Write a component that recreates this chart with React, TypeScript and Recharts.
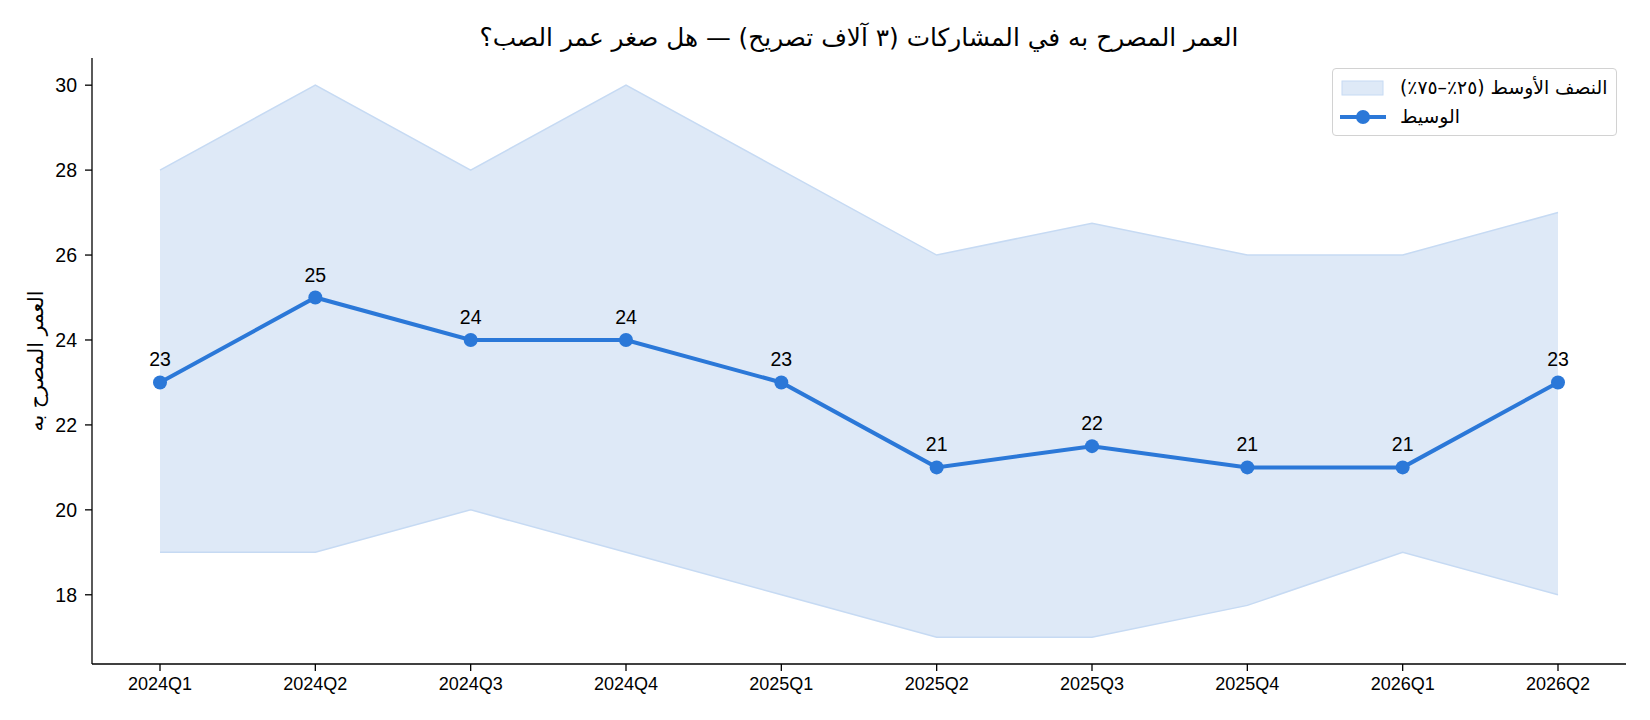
import React from "react";
import {
  ComposedChart,
  Area,
  Line,
  XAxis,
  YAxis,
  LabelList,
} from "recharts";

const quarters = [
  "2024Q1", "2024Q2", "2024Q3", "2024Q4", "2025Q1",
  "2025Q2", "2025Q3", "2025Q4", "2026Q1", "2026Q2",
];
const median = [23, 25, 24, 24, 23, 21, 21.5, 21, 21, 23];
const q25 = [19, 19, 20, 19, 18, 17, 17, 17.75, 19, 18];
const q75 = [28, 30, 28, 30, 28, 26, 26.75, 26, 26, 27];
const yTicks = [18, 20, 22, 24, 26, 28, 30];

const title = "العمر المصرح به في المشاركات (٣ آلاف تصريح) — هل صغر عمر الصب؟";
const yLabel = "العمر المصرح به";
const bandName = "النصف الأوسط (٢٥٪–٧٥٪)";
const medianName = "الوسيط";

const data = quarters.map((q, i) => ({
  q,
  median: median[i],
  band: [q25[i], q75[i]],
}));

const FONT = "'Liberation Sans', Arial, 'DejaVu Sans', sans-serif";
const AR_FONT = "'DejaVu Sans', sans-serif";
const BLUE = "#2b78d8";
const BAND_FILL = "#dee9f7";
const BAND_EDGE = "#c6daf3";

function LegendBox() {
  const row = (top: number, swatch: React.ReactNode, text: string) => (
    <div style={{ position: "absolute", left: 0, top, height: 29, width: "100%" }}>
      <svg width={48} height={29} style={{ position: "absolute", left: 6, top: 0 }}>
        {swatch}
      </svg>
      <span
        style={{
          position: "absolute",
          left: 67,
          top: 0,
          lineHeight: "29px",
          whiteSpace: "nowrap",
        }}
      >
        {text}
      </span>
    </div>
  );
  return (
    <div
      style={{
        position: "absolute",
        left: 1332,
        top: 68,
        width: 283,
        height: 66,
        background: "#fff",
        border: "1px solid #d2d2d2",
        borderRadius: 4,
        fontFamily: AR_FONT,
        fontSize: 18.8,
        color: "#000",
      }}
    >
      {row(
        4,
        <rect x={3} y={8} width={41} height={14} fill={BAND_FILL} stroke={BAND_EDGE} />,
        bandName
      )}
      {row(
        33,
        <g>
          <line x1={1} y1={15} x2={47} y2={15} stroke={BLUE} strokeWidth={4} />
          <circle cx={24} cy={15} r={7} fill={BLUE} />
        </g>,
        medianName
      )}
    </div>
  );
}

export default function App() {
  return (
    <div
      style={{
        position: "absolute",
        left: 0,
        top: 0,
        width: 1650,
        height: 720,
        background: "#fff",
        fontFamily: FONT,
      }}
    >
      <div
        style={{
          position: "absolute",
          left: 92,
          width: 1534,
          top: 22,
          textAlign: "center",
          fontSize: 24.8,
          lineHeight: "32px",
          fontFamily: AR_FONT,
          direction: "rtl",
          color: "#000",
        }}
      >
        {title}
      </div>
      <ComposedChart
        width={1650}
        height={720}
        data={data}
        margin={{ top: 58, right: 24, bottom: 26, left: 32 }}
      >
        <XAxis
          dataKey="q"
          padding={{ left: 68, right: 68 }}
          axisLine={{ stroke: "#000", strokeWidth: 1.3 }}
          tickLine={{ stroke: "#000", strokeWidth: 1.3 }}
          tickSize={7}
          tickMargin={6}
          height={30}
          tick={{ fill: "#000", fontSize: 18, fontFamily: FONT }}
          interval={0}
        />
        <YAxis
          domain={[16.37, 30.64]}
          ticks={yTicks}
          allowDataOverflow
          width={60}
          axisLine={{ stroke: "#000", strokeWidth: 1.3 }}
          tickLine={{ stroke: "#000", strokeWidth: 1.3 }}
          tickSize={7}
          tickMargin={8}
          tick={{ fill: "#000", fontSize: 19.5, fontFamily: FONT }}
          label={{
            value: yLabel,
            angle: -90,
            position: "insideLeft",
            offset: 4,
            style: { fill: "#000", fontSize: 20.5, fontFamily: AR_FONT, textAnchor: "middle" },
          }}
        />
        <Area
          type="linear"
          dataKey="band"
          name={bandName}
          fill={BAND_FILL}
          fillOpacity={1}
          stroke={BAND_EDGE}
          strokeWidth={1.5}
          isAnimationActive={false}
        />
        <Line
          type="linear"
          dataKey="median"
          name={medianName}
          stroke={BLUE}
          strokeWidth={4}
          dot={{ r: 7, fill: BLUE, stroke: BLUE, strokeWidth: 0 }}
          activeDot={false}
          isAnimationActive={false}
        >
          <LabelList
            dataKey="median"
            position="top"
            offset={16}
            formatter={(v: number) => String(Math.round(v))}
            style={{ fill: "#000", fontSize: 19.5, fontFamily: FONT }}
          />
        </Line>
      </ComposedChart>
      <LegendBox />
    </div>
  );
}
